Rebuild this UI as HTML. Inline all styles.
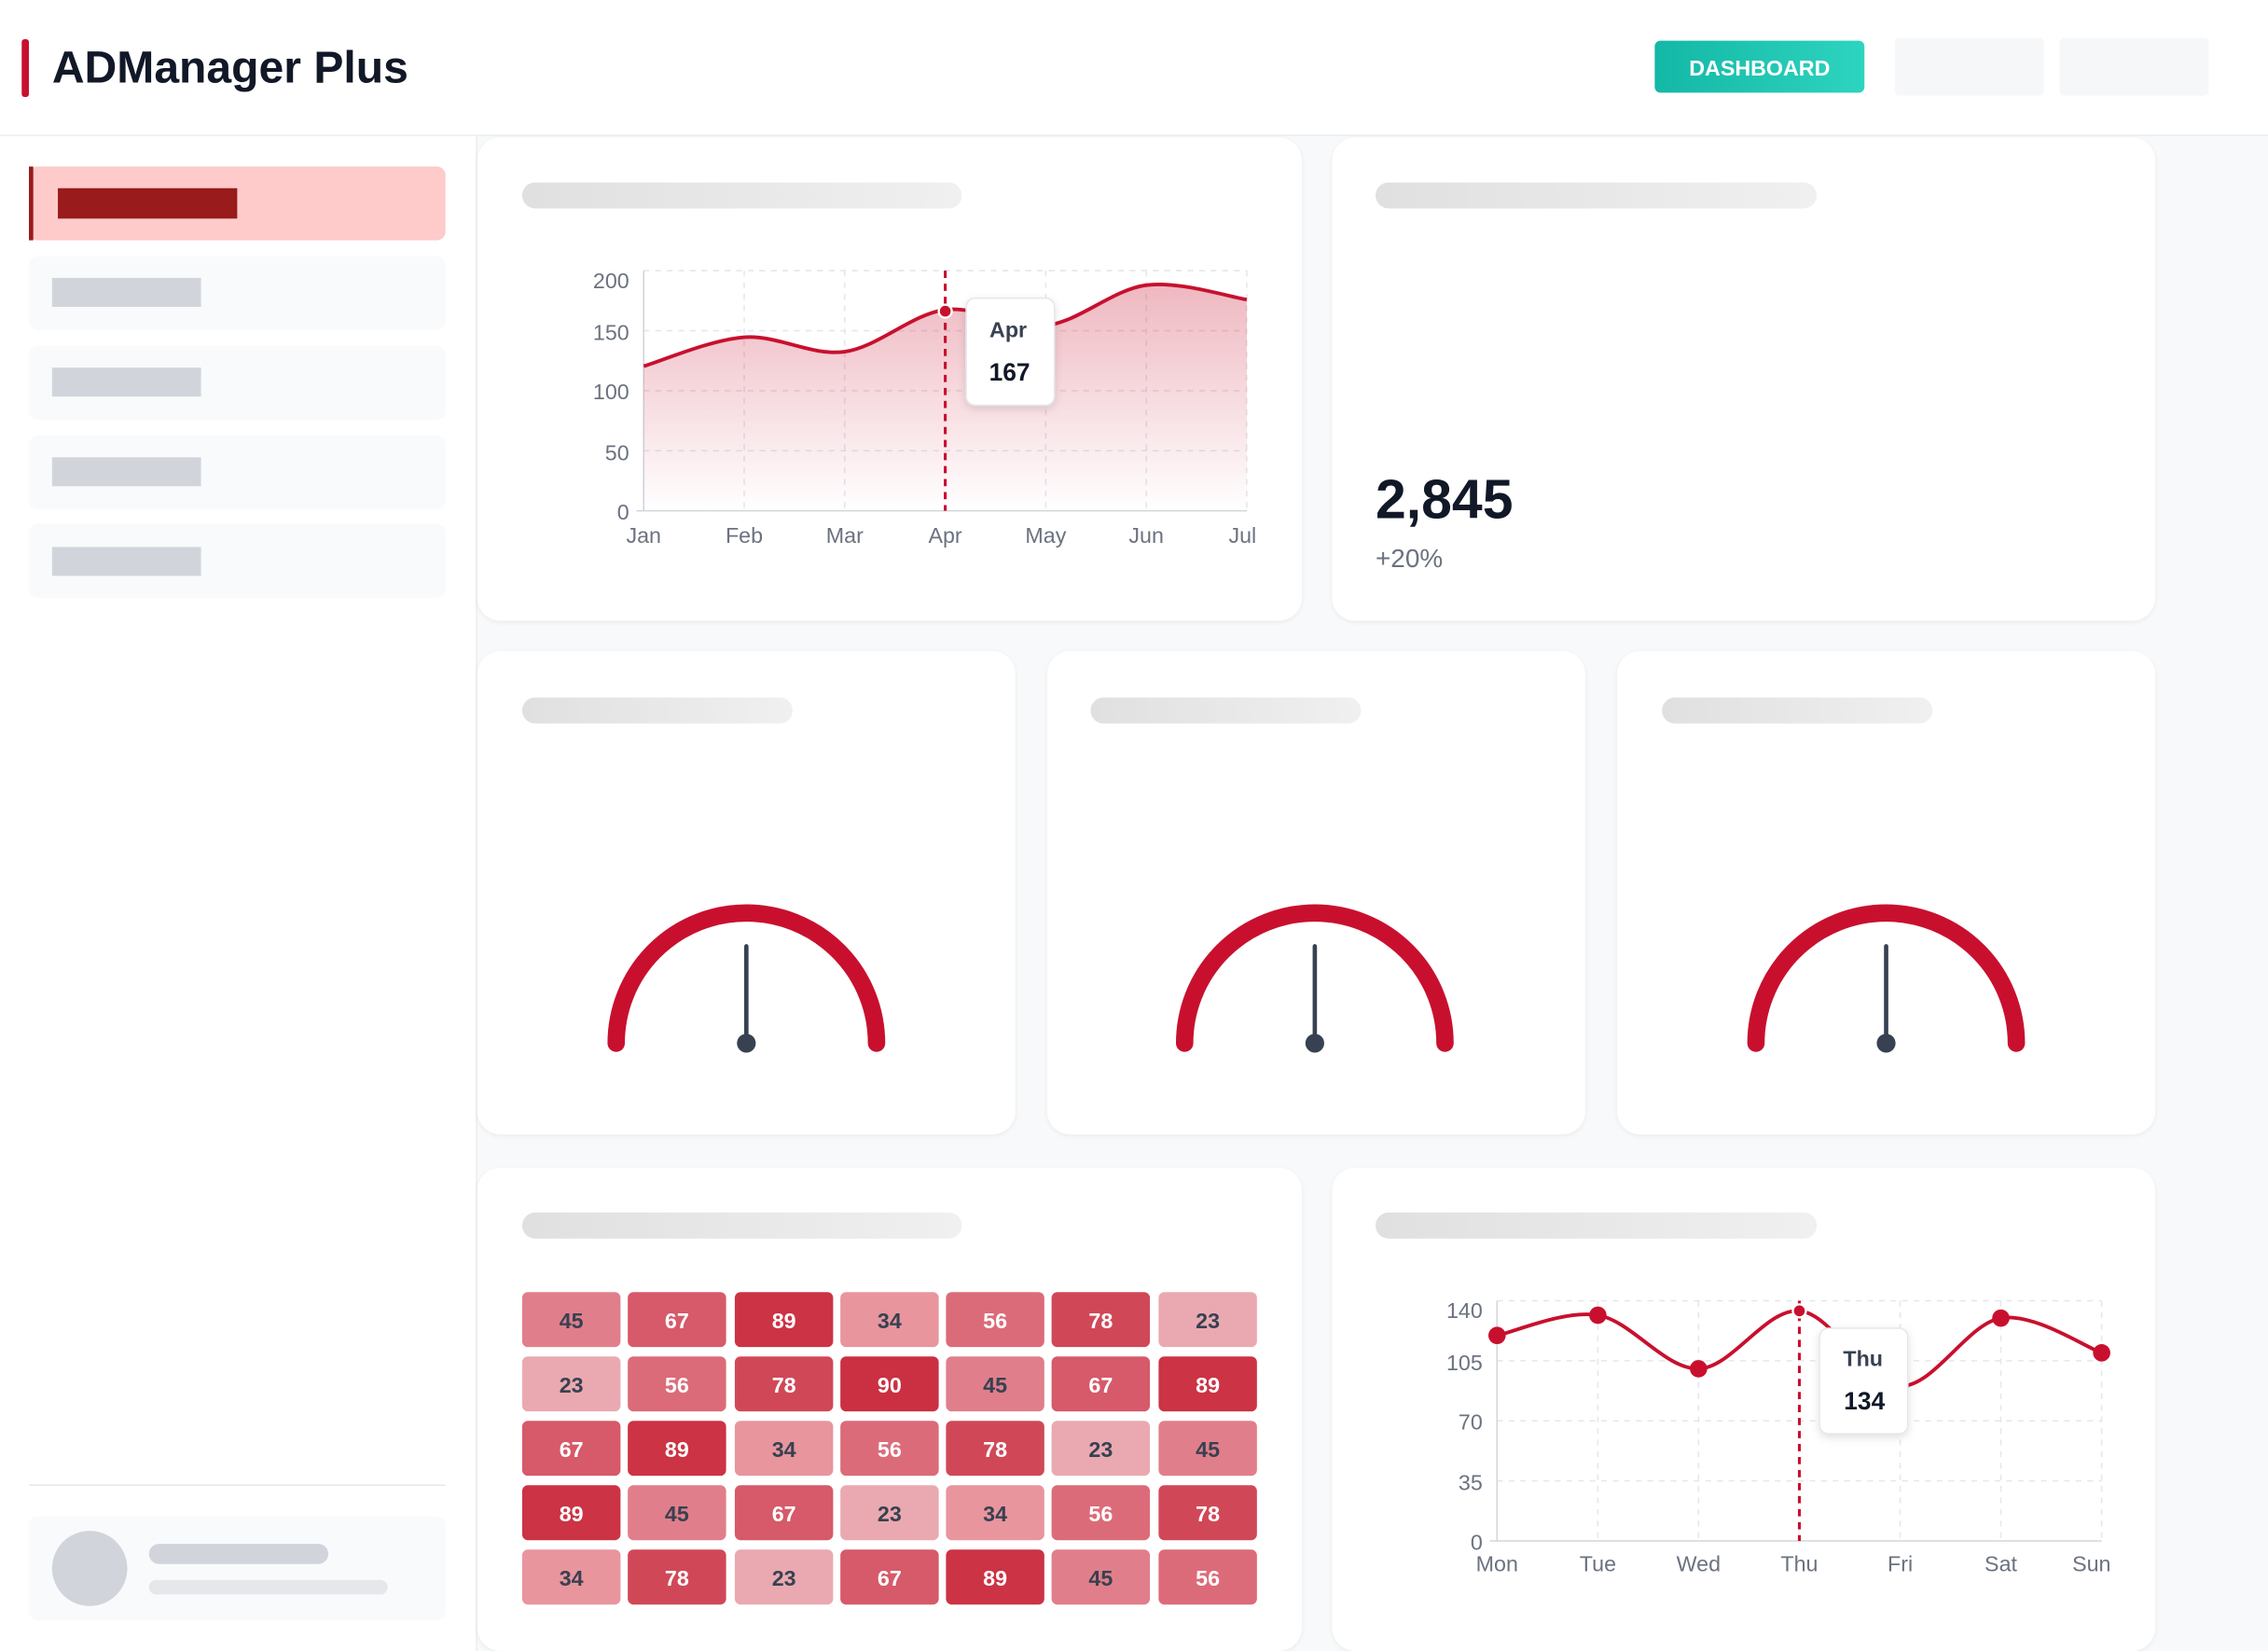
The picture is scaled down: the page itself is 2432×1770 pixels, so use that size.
<!DOCTYPE html>
<html><head><meta charset="utf-8"><style>
html,body{margin:0;padding:0;background:#f8f9fa;}
svg{display:block;}
text{font-family:"Liberation Sans",sans-serif;}
</style></head><body>
<svg width="2432" height="1770" viewBox="0 0 1568 1141" xmlns="http://www.w3.org/2000/svg">
<defs>
<linearGradient id="sk" x1="0" x2="1"><stop offset="0" stop-color="#e0e0e0"/><stop offset="1" stop-color="#f0f0f0"/></linearGradient>
<linearGradient id="btn" x1="0" x2="1"><stop offset="0" stop-color="#14b8a6"/><stop offset="1" stop-color="#2dd4bf"/></linearGradient>
<linearGradient id="area" x1="0" y1="0" x2="0" y2="1"><stop offset="0" stop-color="#c8102e" stop-opacity="0.3"/><stop offset="1" stop-color="#c8102e" stop-opacity="0"/></linearGradient>
<filter id="sh" x="-5%" y="-5%" width="110%" height="110%"><feDropShadow dx="0" dy="1" stdDeviation="1.5" flood-color="#000" flood-opacity="0.06"/></filter>
<filter id="tsh" x="-30%" y="-30%" width="160%" height="160%"><feDropShadow dx="0" dy="2" stdDeviation="3" flood-color="#000" flood-opacity="0.12"/></filter>
</defs>
<rect width="1568" height="1141" fill="#f8f9fa"/>
<rect x="0" y="0" width="1568" height="93" fill="#fff"/>
<line x1="0" y1="93.5" x2="1568" y2="93.5" stroke="#eceef1"/>
<rect x="15" y="27" width="5" height="40" rx="2" fill="#c8102e"/>
<text x="36" y="57" font-size="31" font-weight="700" fill="#111827">ADManager Plus</text>
<rect x="1144" y="28" width="145" height="36" rx="4" fill="url(#btn)"/>
<text x="1216.5" y="52" font-size="15" font-weight="700" fill="#fff" text-anchor="middle">DASHBOARD</text>
<rect x="1310" y="26" width="103" height="40" rx="3" fill="#f6f7f8"/>
<rect x="1424" y="26" width="103" height="40" rx="3" fill="#f6f7f8"/>
<rect x="0" y="94" width="329" height="1047" fill="#fff"/>
<line x1="329.5" y1="94" x2="329.5" y2="1141" stroke="#eceef1"/>
<rect x="20" y="115" width="288" height="51" rx="6" fill="#fecaca"/>
<rect x="20" y="115" width="3" height="51" fill="#991b1b"/>
<rect x="40" y="130" width="124" height="21" fill="#991b1b"/>
<g fill="#f9fafb"><rect x="20" y="177" width="288" height="51" rx="6"/><rect x="20" y="239" width="288" height="51" rx="6"/><rect x="20" y="301" width="288" height="51" rx="6"/><rect x="20" y="362" width="288" height="51" rx="6"/></g>
<g fill="#d1d5db"><rect x="36" y="192" width="103" height="20"/><rect x="36" y="254" width="103" height="20"/><rect x="36" y="316" width="103" height="20"/><rect x="36" y="378" width="103" height="20"/></g>
<line x1="20" y1="1026.5" x2="308" y2="1026.5" stroke="#e5e7eb"/>
<rect x="20" y="1048" width="288" height="72" rx="6" fill="#f9fafb"/>
<circle cx="62" cy="1084" r="26" fill="#d1d5db"/>
<rect x="103" y="1067" width="124" height="14" rx="7" fill="#d1d5db"/>
<rect x="103" y="1092" width="165" height="10" rx="5" fill="#e5e7eb"/>
<g fill="#fff" filter="url(#sh)">
<rect x="330" y="95" width="570" height="334" rx="16"/><rect x="921" y="95" width="569" height="334" rx="16"/>
<rect x="330" y="450" width="372" height="334" rx="16"/><rect x="724" y="450" width="372" height="334" rx="16"/><rect x="1118" y="450" width="372" height="334" rx="16"/>
<rect x="330" y="807" width="570" height="334" rx="16"/><rect x="921" y="807" width="569" height="334" rx="16"/>
</g>
<g fill="url(#sk)">
<rect x="361" y="126" width="304" height="18" rx="9"/><rect x="951" y="126" width="305" height="18" rx="9"/>
<rect x="361" y="482" width="187" height="18" rx="9"/><rect x="754" y="482" width="187" height="18" rx="9"/><rect x="1149" y="482" width="187" height="18" rx="9"/>
<rect x="361" y="838" width="304" height="18" rx="9"/><rect x="951" y="838" width="305" height="18" rx="9"/>
</g>
<g stroke="#e5e7eb" stroke-dasharray="4 4" stroke-width="1">
<line x1="445" y1="187" x2="862" y2="187"/><line x1="445" y1="228.5" x2="862" y2="228.5"/><line x1="445" y1="270" x2="862" y2="270"/><line x1="445" y1="311.5" x2="862" y2="311.5"/>
<line x1="514.5" y1="187" x2="514.5" y2="353"/><line x1="584" y1="187" x2="584" y2="353"/><line x1="723" y1="187" x2="723" y2="353"/><line x1="792.5" y1="187" x2="792.5" y2="353"/><line x1="862" y1="187" x2="862" y2="353"/>
</g>
<line x1="445" y1="187" x2="445" y2="353" stroke="#d1d5db"/><line x1="440" y1="353" x2="862" y2="353" stroke="#d1d5db"/>
<path d="M445,253 C456.6,249.7 491.3,234.7 514.5,233 C537.7,231.3 560.8,246.2 584,243 C607.2,239.8 630.3,217 653.5,214 C676.7,211 699.8,227.8 723,225 C746.2,222.2 769.3,200 792.5,197 C815.7,194 850.4,205.3 862,207 L862,353 L445,353 Z" fill="url(#area)"/>
<path d="M445,253 C456.6,249.7 491.3,234.7 514.5,233 C537.7,231.3 560.8,246.2 584,243 C607.2,239.8 630.3,217 653.5,214 C676.7,211 699.8,227.8 723,225 C746.2,222.2 769.3,200 792.5,197 C815.7,194 850.4,205.3 862,207" fill="none" stroke="#c8102e" stroke-width="2.5"/>
<line x1="653.5" y1="187" x2="653.5" y2="353" stroke="#c8102e" stroke-width="2" stroke-dasharray="5 4"/>
<circle cx="653.5" cy="215" r="4.5" fill="#c8102e" stroke="#fff" stroke-width="1.5"/>
<g font-size="15" fill="#6b7280" text-anchor="end"><text x="435" y="199">200</text><text x="435" y="235">150</text><text x="435" y="276">100</text><text x="435" y="318">50</text><text x="435" y="359">0</text></g>
<g font-size="15" fill="#6b7280" text-anchor="middle"><text x="445" y="375">Jan</text><text x="514.5" y="375">Feb</text><text x="584" y="375">Mar</text><text x="653.5" y="375">Apr</text><text x="723" y="375">May</text><text x="792.5" y="375">Jun</text><text x="859" y="375">Jul</text></g>
<rect x="668" y="206" width="61" height="74" rx="6" fill="#fff" stroke="#e5e7eb" filter="url(#tsh)"/>
<text x="697" y="233" font-size="15" font-weight="700" fill="#374151" text-anchor="middle">Apr</text>
<text x="698" y="263" font-size="17" font-weight="700" fill="#111827" text-anchor="middle">167</text>
<text x="951" y="358" font-size="38" font-weight="700" fill="#111827">2,845</text>
<text x="951" y="392" font-size="18" fill="#6b7280">+20%</text>
<g fill="none" stroke="#c8102e" stroke-width="12" stroke-linecap="round">
<path d="M426,721 A90,90 0 0 1 606,721"/><path d="M819,721 A90,90 0 0 1 999,721"/><path d="M1214,721 A90,90 0 0 1 1394,721"/>
</g>
<g stroke="#374151" stroke-width="3" stroke-linecap="round"><line x1="516" y1="721" x2="516" y2="654"/><line x1="909" y1="721" x2="909" y2="654"/><line x1="1304" y1="721" x2="1304" y2="654"/></g>
<g fill="#374151"><circle cx="516" cy="721" r="6.5"/><circle cx="909" cy="721" r="6.5"/><circle cx="1304" cy="721" r="6.5"/></g>
<g font-size="15" font-weight="700" text-anchor="middle">
<g transform="translate(361,893)">
<rect x="0" width="68" height="38" rx="4" fill="#e07f8b"/><text x="34" y="25" fill="#374151">45</text>
<rect x="73" width="68" height="38" rx="4" fill="#d65a69"/><text x="107" y="25" fill="#fff">67</text>
<rect x="147" width="68" height="38" rx="4" fill="#cc3344"/><text x="181" y="25" fill="#fff">89</text>
<rect x="220" width="68" height="38" rx="4" fill="#e8959e"/><text x="254" y="25" fill="#374151">34</text>
<rect x="293" width="68" height="38" rx="4" fill="#dc6b79"/><text x="327" y="25" fill="#fff">56</text>
<rect x="366" width="68" height="38" rx="4" fill="#d04858"/><text x="400" y="25" fill="#fff">78</text>
<rect x="440" width="68" height="38" rx="4" fill="#eaa9b0"/><text x="474" y="25" fill="#374151">23</text>
</g>
<g transform="translate(361,937.5)">
<rect x="0" width="68" height="38" rx="4" fill="#eaa9b0"/><text x="34" y="25" fill="#374151">23</text>
<rect x="73" width="68" height="38" rx="4" fill="#dc6b79"/><text x="107" y="25" fill="#fff">56</text>
<rect x="147" width="68" height="38" rx="4" fill="#d04858"/><text x="181" y="25" fill="#fff">78</text>
<rect x="220" width="68" height="38" rx="4" fill="#ca3042"/><text x="254" y="25" fill="#fff">90</text>
<rect x="293" width="68" height="38" rx="4" fill="#e07f8b"/><text x="327" y="25" fill="#374151">45</text>
<rect x="366" width="68" height="38" rx="4" fill="#d65a69"/><text x="400" y="25" fill="#fff">67</text>
<rect x="440" width="68" height="38" rx="4" fill="#cc3344"/><text x="474" y="25" fill="#fff">89</text>
</g>
<g transform="translate(361,982)">
<rect x="0" width="68" height="38" rx="4" fill="#d65a69"/><text x="34" y="25" fill="#fff">67</text>
<rect x="73" width="68" height="38" rx="4" fill="#cc3344"/><text x="107" y="25" fill="#fff">89</text>
<rect x="147" width="68" height="38" rx="4" fill="#e8959e"/><text x="181" y="25" fill="#374151">34</text>
<rect x="220" width="68" height="38" rx="4" fill="#dc6b79"/><text x="254" y="25" fill="#fff">56</text>
<rect x="293" width="68" height="38" rx="4" fill="#d04858"/><text x="327" y="25" fill="#fff">78</text>
<rect x="366" width="68" height="38" rx="4" fill="#eaa9b0"/><text x="400" y="25" fill="#374151">23</text>
<rect x="440" width="68" height="38" rx="4" fill="#e07f8b"/><text x="474" y="25" fill="#374151">45</text>
</g>
<g transform="translate(361,1026.5)">
<rect x="0" width="68" height="38" rx="4" fill="#cc3344"/><text x="34" y="25" fill="#fff">89</text>
<rect x="73" width="68" height="38" rx="4" fill="#e07f8b"/><text x="107" y="25" fill="#374151">45</text>
<rect x="147" width="68" height="38" rx="4" fill="#d65a69"/><text x="181" y="25" fill="#fff">67</text>
<rect x="220" width="68" height="38" rx="4" fill="#eaa9b0"/><text x="254" y="25" fill="#374151">23</text>
<rect x="293" width="68" height="38" rx="4" fill="#e8959e"/><text x="327" y="25" fill="#374151">34</text>
<rect x="366" width="68" height="38" rx="4" fill="#dc6b79"/><text x="400" y="25" fill="#fff">56</text>
<rect x="440" width="68" height="38" rx="4" fill="#d04858"/><text x="474" y="25" fill="#fff">78</text>
</g>
<g transform="translate(361,1071)">
<rect x="0" width="68" height="38" rx="4" fill="#e8959e"/><text x="34" y="25" fill="#374151">34</text>
<rect x="73" width="68" height="38" rx="4" fill="#d04858"/><text x="107" y="25" fill="#fff">78</text>
<rect x="147" width="68" height="38" rx="4" fill="#eaa9b0"/><text x="181" y="25" fill="#374151">23</text>
<rect x="220" width="68" height="38" rx="4" fill="#d65a69"/><text x="254" y="25" fill="#fff">67</text>
<rect x="293" width="68" height="38" rx="4" fill="#cc3344"/><text x="327" y="25" fill="#fff">89</text>
<rect x="366" width="68" height="38" rx="4" fill="#e07f8b"/><text x="400" y="25" fill="#374151">45</text>
<rect x="440" width="68" height="38" rx="4" fill="#dc6b79"/><text x="474" y="25" fill="#fff">56</text>
</g>
</g>
<g stroke="#e5e7eb" stroke-dasharray="4 4" stroke-width="1">
<line x1="1035" y1="899" x2="1453" y2="899"/><line x1="1035" y1="940.5" x2="1453" y2="940.5"/><line x1="1035" y1="982" x2="1453" y2="982"/><line x1="1035" y1="1023.5" x2="1453" y2="1023.5"/>
<line x1="1104.7" y1="899" x2="1104.7" y2="1065"/><line x1="1174.3" y1="899" x2="1174.3" y2="1065"/><line x1="1313.7" y1="899" x2="1313.7" y2="1065"/><line x1="1383.3" y1="899" x2="1383.3" y2="1065"/><line x1="1453" y1="899" x2="1453" y2="1065"/>
</g>
<line x1="1035" y1="899" x2="1035" y2="1065" stroke="#d1d5db"/><line x1="1030" y1="1065" x2="1453" y2="1065" stroke="#d1d5db"/>
<path d="M1035,923 C1046.6,920.7 1081.5,905.2 1104.7,909 C1127.9,912.8 1151.1,946.5 1174.3,946 C1197.5,945.5 1220.8,904 1244,906 C1267.2,908 1290.5,957.2 1313.7,958 C1336.9,958.8 1360.1,914.8 1383.3,911 C1406.5,907.2 1441.4,931 1453,935" fill="none" stroke="#c8102e" stroke-width="2.5"/>
<line x1="1244" y1="899" x2="1244" y2="1065" stroke="#c8102e" stroke-width="2" stroke-dasharray="5 4"/>
<g fill="#c8102e"><circle cx="1035" cy="923" r="6"/><circle cx="1104.7" cy="909" r="6"/><circle cx="1174.3" cy="946" r="6"/><circle cx="1313.7" cy="958" r="6"/><circle cx="1383.3" cy="911" r="6"/><circle cx="1453" cy="935" r="6"/></g>
<circle cx="1244" cy="906" r="4.5" fill="#c8102e" stroke="#fff" stroke-width="1.5"/>
<g font-size="15" fill="#6b7280" text-anchor="end"><text x="1025" y="911">140</text><text x="1025" y="947">105</text><text x="1025" y="988">70</text><text x="1025" y="1030">35</text><text x="1025" y="1071">0</text></g>
<g font-size="15" fill="#6b7280" text-anchor="middle"><text x="1035" y="1086">Mon</text><text x="1104.7" y="1086">Tue</text><text x="1174.3" y="1086">Wed</text><text x="1244" y="1086">Thu</text><text x="1313.7" y="1086">Fri</text><text x="1383.3" y="1086">Sat</text><text x="1446" y="1086">Sun</text></g>
<rect x="1258" y="918" width="61" height="73" rx="6" fill="#fff" stroke="#e5e7eb" filter="url(#tsh)"/>
<text x="1288" y="944" font-size="15" font-weight="700" fill="#374151" text-anchor="middle">Thu</text>
<text x="1289" y="974" font-size="17" font-weight="700" fill="#111827" text-anchor="middle">134</text>
</svg>
</body></html>
